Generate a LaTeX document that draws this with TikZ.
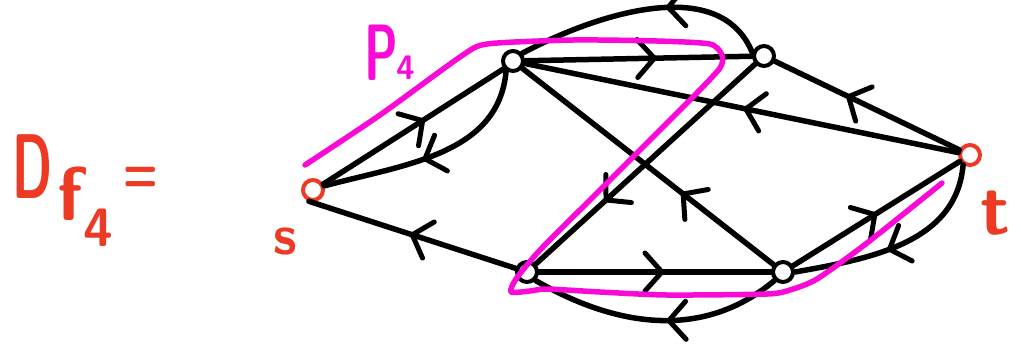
\documentclass[tikz,border=0pt]{standalone}
\usepackage{fontspec}
\usetikzlibrary{decorations.markings}
\definecolor{hred}{RGB}{236,58,36}
\definecolor{hpink}{RGB}{250,10,215}
\begin{document}
\begin{tikzpicture}[x=1pt,y=-1pt,
  edge/.style={line width=5.5pt, line cap=round, line join=round},
  chev/.style={line width=5pt, line cap=round, line join=round},
  midarrow/.style={postaction={decorate, decoration={markings, mark=at position #1 with {\draw[chev] (-17pt,19pt) -- (0pt,0pt) -- (-17pt,-19pt);}}}},
  vtx/.style={circle, draw, line width=4pt, minimum size=20pt, inner sep=0pt},
  lab/.style={inner sep=0pt, text=hred},
]
\useasboundingbox (0,0) rectangle (1021,354);

% vertices
\node[vtx, draw=hred] (s) at (313,190) {};
\node[vtx] (a) at (513,61) {};
\node[vtx] (b) at (764,56) {};
\node[vtx, draw=hred] (t) at (970,155) {};
\node[vtx] (c) at (527,272) {};
\node[vtx] (d) at (783,272) {};

% edges
\draw[edge, midarrow=0.55] (s.30) -- (a.220);
\draw[edge, midarrow=0.55] (a.235) to[out=-95,in=15] (s.20);
\draw[edge, midarrow=0.5] (c) -- (s.250);
\draw[edge, midarrow=0.57] (a) -- (b);
\draw[edge, midarrow=0.4] (b.165) to[out=112,in=28,looseness=0.95] (a.40);
\draw[edge, midarrow=0.49] (t) -- (a);
\draw[edge, midarrow=0.6] (t) -- (b);
\draw[edge, midarrow=0.36] (d) -- (a);
\draw[edge, midarrow=0.68] (b) -- (c);
\draw[edge, midarrow=0.53] (c) -- (d);
\draw[edge, midarrow=0.45] (d.225) to[out=-140,in=-30] (c.315);
\draw[edge, midarrow=0.49] (d) -- (t);
\draw[edge, midarrow=0.55] (t.235) to[out=-95,in=10] (d.0);

% path P4
\draw[hpink, line width=5.5pt, line cap=round, line join=round]
  plot[smooth, tension=0.4] coordinates {(305,165) (380,115) (460,57) (487,44) (573,40) (657,41) (710,44) (722,55) (720,68) (693,97) (653,137) (633,157) (597,193) (540,250) (516,279) (511,292) (530,291) (547,289) (600,292) (667,295) (767,294) (790,290) (817,279) (867,243) (942,183)};

% labels
\node[lab, font=\sffamily\bfseries\fontsize{92}{92}\selectfont] (Dl) at (33,167) {\scalebox{0.55}[1]{D}};
\node[lab, font=\sffamily\bfseries\fontsize{76}{76}\selectfont] (fl) at (70,194) {f};
\node[lab, font=\sffamily\bfseries\fontsize{54}{54}\selectfont] (fourl) at (98,228) {4};
\node[lab, font=\sffamily\bfseries\fontsize{62}{62}\selectfont] (eq) at (141,180) {\scalebox{0.65}[1]{=}};
\node[lab, font=\sffamily\bfseries\fontsize{56}{56}\selectfont] (sl) at (285,242) {s};
\node[lab, font=\sffamily\bfseries\fontsize{74}{74}\selectfont] (tl) at (995,213) {t};
\node[lab, text=hpink, font=\sffamily\bfseries\fontsize{80}{80}\selectfont] (Pl) at (381,53) {\scalebox{0.6}[1]{P}};
\node[lab, text=hpink, font=\sffamily\bfseries\fontsize{34}{34}\selectfont] (Pn) at (406,68) {4};
\end{tikzpicture}
\end{document}
